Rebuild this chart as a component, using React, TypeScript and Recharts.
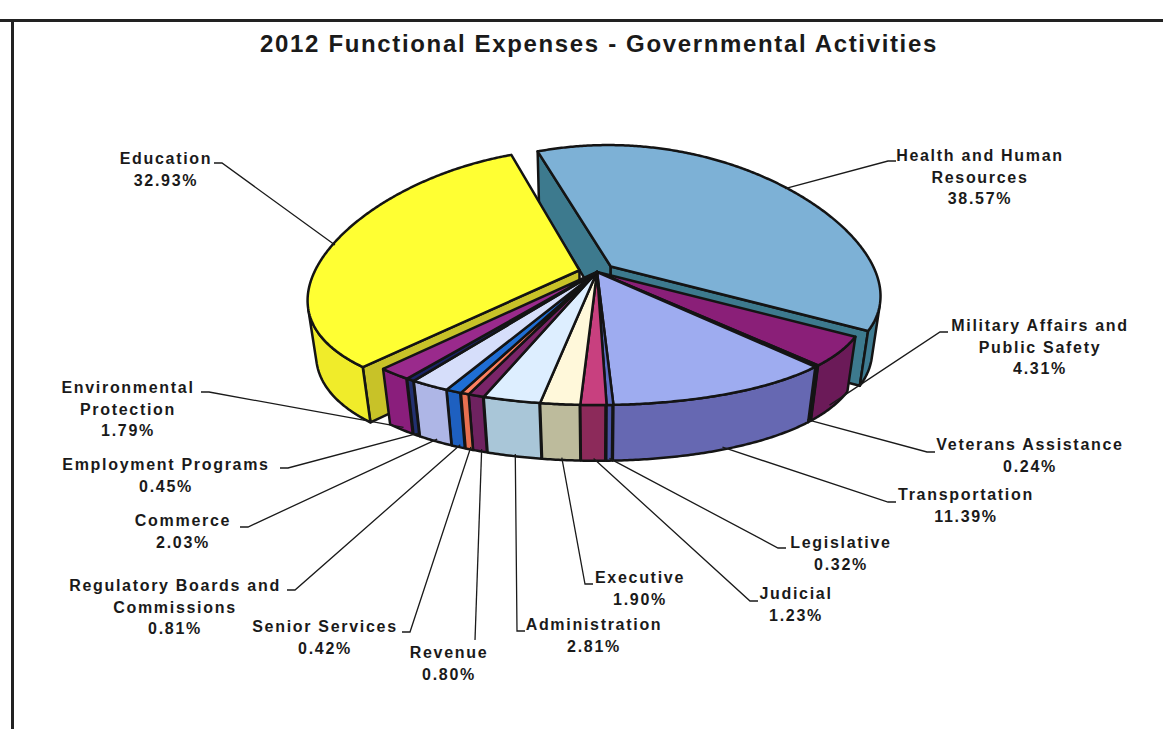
import React from 'react';
import { Pie, PieChart } from 'recharts';

// slices, clockwise from the top
const categories = [
  'Health and Human Resources',
  'Military Affairs and Public Safety',
  'Veterans Assistance',
  'Transportation',
  'Legislative',
  'Judicial',
  'Executive',
  'Administration',
  'Revenue',
  'Senior Services',
  'Regulatory Boards and Commissions',
  'Commerce',
  'Employment Programs',
  'Environmental Protection',
  'Education',
];
const shares = [38.57, 4.31, 0.24, 11.39, 0.32, 1.23, 1.9, 2.81, 0.8, 0.42, 0.81, 2.03, 0.45, 1.79, 32.93];
const labelLines = [
  ['Health and Human', 'Resources'],
  ['Military Affairs and', 'Public Safety'],
  ['Veterans Assistance'],
  ['Transportation'],
  ['Legislative'],
  ['Judicial'],
  ['Executive'],
  ['Administration'],
  ['Revenue'],
  ['Senior Services'],
  ['Regulatory Boards and', 'Commissions'],
  ['Commerce'],
  ['Employment Programs'],
  ['Environmental', 'Protection'],
  ['Education'],
];
const exploded = ['Health and Human Resources', 'Education'];

const data = categories.map((name, i) => ({ name, value: shares[i] }));

const topColors = [
  '#7db1d6', '#8a1f78', '#8c3a2a', '#9eacf0', '#6070c8', '#c8407f', '#fff8da', '#ddeeff',
  '#7a2468', '#ff8060', '#1f6ed4', '#d6defa', '#1a2466', '#9a2a8c', '#ffff33',
];
const sideColors = [
  '#3f7c92', '#6b1a58', '#6a2a20', '#6668b2', '#4a52a4', '#8c2a5a', '#bdbb9c', '#a9c6d8',
  '#6e2260', '#e87050', '#1e60c0', '#aeb6e6', '#223070', '#8a1e7c', '#f0ec2a',
];
const cutColors = [
  '#3d7a8e', '#6b1a58', '#6a2a20', '#6668b2', '#4a52a4', '#8c2a5a', '#bdbb9c', '#a9c6d8',
  '#6e2260', '#e87050', '#1e60c0', '#aeb6e6', '#223070', '#8a1e7c', '#c8c228',
];

// text centre x, first baseline y, leader end x/y, tick direction
const labelPos = [
  [980, 161, 888, 161, 1],
  [1040, 331, 940, 332, 1],
  [1030, 450, 927, 452, 1],
  [966, 500, 888, 502, 1],
  [841, 548, 778, 548, 1],
  [796, 599, 750, 601, 1],
  [640, 583, 585, 584, 1],
  [594, 630, 517, 631, 1],
  [449, 658, 475, 640, 0],
  [325, 632, 410, 632, -1],
  [175, 591, 295, 590, -1],
  [183, 526, 248, 527, -1],
  [166, 470, 288, 468, -1],
  [128, 393, 209, 392, -1],
  [166, 164, 222, 163, -1],
];

// tilt and perspective of the 3D view (x gets the stronger perspective, like Excel)
const SIN = 0.48;
const COS = 0.8773;
const DIST_Y = 5332;
const DIST_X = 1047;
const DEPTH = 62;
const EXPLODE = 18;
const FONT = '"Liberation Sans", Arial, sans-serif';

const rad = (d: number) => (d * Math.PI) / 180;

const project = (cx: number, cy: number, X: number, Z: number, Y: number) => {
  const yc = Z * SIN + Y * COS;
  const wy = DIST_Y + Z * COS - Y * SIN;
  const wx = DIST_X + Z * COS - Y * SIN;
  return [cx + (DIST_X * X) / wx, cy - (DIST_Y * yc) / wy];
};

const pt = (cx: number, cy: number, r: number, deg: number, Y: number, ox: number, oz: number) =>
  project(cx, cy, r * Math.cos(rad(deg)) + ox, r * Math.sin(rad(deg)) + oz, Y);

const arcPts = (cx: number, cy: number, r: number, from: number, to: number, Y: number, ox: number, oz: number) => {
  const n = Math.max(2, Math.ceil(Math.abs(to - from) * 2) + 1);
  const out: number[][] = [];
  for (let i = 0; i < n; i++) out.push(pt(cx, cy, r, from + ((to - from) * i) / (n - 1), Y, ox, oz));
  return out;
};

const toPath = (pts: number[][]) =>
  'M' + pts.map((p) => p[0].toFixed(2) + ',' + p[1].toFixed(2)).join('L') + 'Z';

const cross = (o: number[], a: number[], b: number[]) =>
  (a[0] - o[0]) * (b[1] - o[1]) - (a[1] - o[1]) * (b[0] - o[0]);

const offsetOf = (name: string, mid: number) => {
  const e = exploded.includes(name) ? EXPLODE : 0;
  return [e * Math.cos(rad(mid)), e * Math.sin(rad(mid))];
};

const Slice3D = (props: any) => {
  const { cx, cy, outerRadius: r, startAngle, endAngle, layer } = props;
  const name = props.payload?.name ?? props.name;
  const i = categories.indexOf(name);
  const hi = Math.max(startAngle, endAngle);
  const lo = Math.min(startAngle, endAngle);
  const mid = (hi + lo) / 2;
  const [ox, oz] = offsetOf(name, mid);
  const isOut = exploded.includes(name);
  const stroke = { stroke: '#141414', strokeWidth: 2.5, strokeLinejoin: 'round' as const };

  if (layer === 'top') {
    const pts = [project(cx, cy, ox, oz, 0), ...arcPts(cx, cy, r, hi, lo, 0, ox, oz)];
    return <path d={toPath(pts)} fill={topColors[i]} {...stroke} />;
  }
  if ((layer === 'back') !== isOut) return null;

  const parts: React.ReactNode[] = [];
  if (isOut) {
    const cTop = project(cx, cy, ox, oz, 0);
    const cBot = project(cx, cy, ox, oz, -DEPTH);
    const inner = pt(cx, cy, r * 0.5, mid, 0, ox, oz);
    [hi, lo].forEach((th, k) => {
      const edge = pt(cx, cy, r, th, 0, ox, oz);
      // the cut face shows when it hangs on the other side of the edge than the top face
      if (Math.sign(cross(cTop, edge, cBot)) === Math.sign(cross(cTop, edge, inner))) return;
      const pts = [cTop, edge, pt(cx, cy, r, th, -DEPTH, ox, oz), cBot];
      parts.push(<path key={'c' + k} d={toPath(pts)} fill={cutColors[i]} {...stroke} />);
    });
  }
  // outer wall, only the part that faces the viewer
  const visible = (d: number) => {
    const t1 = pt(cx, cy, r, d, 0, ox, oz);
    const t2 = pt(cx, cy, r, d + 0.2, 0, ox, oz);
    const b1 = pt(cx, cy, r, d, -DEPTH, ox, oz);
    return cross(t1, t2, b1) > 0;
  };
  const runs: number[][] = [];
  let cur: number[] | null = null;
  const step = 0.25;
  for (let d = lo; d <= hi + 1e-9; d += step) {
    const dd = Math.min(d, hi);
    if (visible(dd)) {
      if (!cur) cur = [dd, dd];
      cur[1] = dd;
    } else if (cur) {
      runs.push(cur);
      cur = null;
    }
  }
  if (cur) runs.push(cur);
  runs.forEach(([a0, a1], k) => {
    if (a1 - a0 < 0.01) return;
    const pts = [...arcPts(cx, cy, r, a0, a1, 0, ox, oz), ...arcPts(cx, cy, r, a1, a0, -DEPTH, ox, oz)];
    parts.push(<path key={'w' + k} d={toPath(pts)} fill={sideColors[i]} {...stroke} />);
  });
  return <g>{parts}</g>;
};

const renderLabel = (props: any) => {
  const { cx, cy, outerRadius: r, startAngle, endAngle, value } = props;
  const name = props.payload?.name ?? props.name;
  const i = categories.indexOf(name);
  const mid = (startAngle + endAngle) / 2;
  const [ox, oz] = offsetOf(name, mid);
  const front = Math.sin(rad(mid)) < -0.05;
  const a = pt(cx, cy, r * 0.99, mid, front ? -DEPTH + 1 : 0, ox, oz);
  const [tx, ty, lx, ly, dir] = labelPos[i];
  const pts = dir === 0 ? [a, [lx, ly]] : [a, [lx, ly], [lx + dir * 8, ly]];
  const lines = [...labelLines[i], Number(value).toFixed(2) + '%'];
  return (
    <g key={'lab' + i}>
      <polyline
        points={pts.map((p) => p.join(',')).join(' ')}
        fill="none"
        stroke="#1a1a1a"
        strokeWidth={1.3}
      />
      {lines.map((t, k) => (
        <text
          key={k}
          x={tx}
          y={ty + k * 21.5}
          textAnchor="middle"
          fontFamily={FONT}
          fontWeight="bold"
          fontSize={16}
          letterSpacing={1.7}
          fill="#1a1a1a">
          {t}
        </text>
      ))}
    </g>
  );
};

const pieCommon = {
  data,
  dataKey: 'value',
  nameKey: 'name',
  cx: 597,
  cy: 272,
  outerRadius: 265,
  startAngle: 109,
  endAngle: -251,
  isAnimationActive: false,
  stroke: 'none',
};

const App = () => {
  return (
    <div
      style={{
        position: 'absolute',
        left: 0,
        top: 0,
        width: 1163,
        height: 732,
        background: '#fff',
        overflow: 'hidden',
      }}>
      <div style={{ position: 'absolute', left: 0, top: 19, width: 1163, height: 2.5, background: '#222' }} />
      <div style={{ position: 'absolute', left: 11, top: 20, width: 2.5, height: 709, background: '#222' }} />
      <svg width={1163} height={80} style={{ position: 'absolute', left: 0, top: 0 }}>
        <text
          x={599}
          y={52}
          textAnchor="middle"
          fontFamily={FONT}
          fontWeight="bold"
          fontSize={24}
          letterSpacing={1.65}
          fill="#1a1a1a">
          2012 Functional Expenses - Governmental Activities
        </text>
      </svg>
      <div style={{ position: 'absolute', left: 0, top: 0 }}>
        <PieChart width={1163} height={732} margin={{ top: 0, right: 0, bottom: 0, left: 0 }}>
          <Pie {...pieCommon} shape={(p: any) => <Slice3D {...p} layer="back" />} />
          <Pie {...pieCommon} shape={(p: any) => <Slice3D {...p} layer="front" />} />
          <Pie
            {...pieCommon}
            shape={(p: any) => <Slice3D {...p} layer="top" />}
            label={renderLabel}
            labelLine={false}
          />
        </PieChart>
      </div>
    </div>
  );
};

export default App;
